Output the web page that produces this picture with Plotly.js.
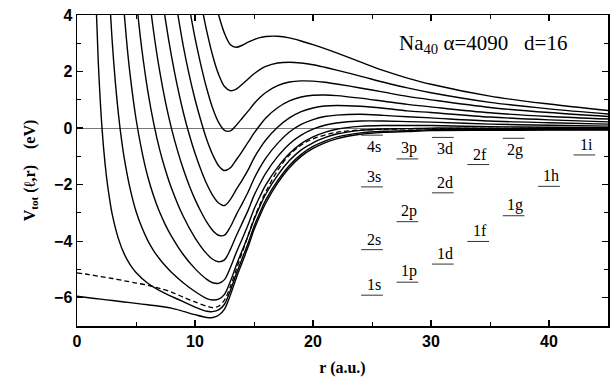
<!DOCTYPE html>
<html>
<head>
<meta charset="utf-8">
<script src="https://cdn.plot.ly/plotly-3.0.1.min.js"></script>
<style>html,body{margin:0;padding:0;background:#fff;}#chart{width:615px;height:377px;}</style>
</head>
<body>
<div id="chart"></div>
<script>
// ---- effective potentials V_tot(l, r) ----
const rL0 = [0,1,2,3,4,5,6,7,8,9,10,11,11.5,12,12.5,13,13.5,14,14.5,15,15.5,16,17,18,19,20,21,22,24,26,28,30,35,40,45];
const vL0 = [-5.95,-6.0,-6.05,-6.1,-6.15,-6.2,-6.25,-6.3,-6.37,-6.48,-6.6,-6.7,-6.7,-6.62,-6.4,-5.9,-5.3,-4.75,-4.2,-3.6,-3.1,-2.65,-1.95,-1.4,-1.0,-0.72,-0.52,-0.38,-0.22,-0.15,-0.12,-0.09,-0.08,-0.07,-0.07];

const rL1 = [1.6,1.8,2,2.25,2.5,2.75,3,3.5,4,4.5,5,6,7,8,9,10,11,11.5,12,12.5,13,13.5,14,14.5,15,15.5,16,17,18,19,20,21,22,24,26,28,30,35,40,45];
const vL1 = [4.61,2.37,0.75,-0.69,-1.72,-2.48,-3.08,-3.9,-4.45,-4.83,-5.11,-5.49,-5.75,-5.95,-6.14,-6.33,-6.48,-6.49,-6.43,-6.23,-5.74,-5.15,-4.61,-4.07,-3.48,-2.99,-2.54,-1.86,-1.32,-0.93,-0.65,-0.46,-0.32,-0.17,-0.11,-0.09,-0.06,-0.05,-0.05,-0.05];

const rL2 = [2.75,3,3.25,3.5,3.75,4,4.5,5,5.5,6,6.5,7,7.5,8,9,10,11,11.5,12,12.5,13,13.5,14,14.5,15,15.5,16,17,18,19,20,21,22,24,26,28,30,35,40,45];
const vL2 = [4.71,2.97,1.62,0.54,-0.34,-1.05,-2.14,-2.94,-3.52,-3.98,-4.34,-4.63,-4.88,-5.1,-5.47,-5.78,-6.03,-6.08,-6.05,-5.88,-5.42,-4.85,-4.33,-3.81,-3.24,-2.76,-2.33,-1.67,-1.15,-0.77,-0.52,-0.34,-0.21,-0.08,-0.03,-0.02,0.0,-0.01,-0.02,-0.03];

const rL3 = [3.9,4.25,4.5,5,5.5,6,6.5,7,7.5,8,9,10,11,11.5,12,12.5,13,13.5,14,14.5,15,15.5,16,17,18,19,20,21,22,24,26,28,30,35,40,45];
const vL3 = [4.58,2.88,1.89,0.33,-0.82,-1.72,-2.41,-2.97,-3.43,-3.82,-4.47,-4.97,-5.35,-5.47,-5.49,-5.36,-4.93,-4.4,-3.92,-3.42,-2.87,-2.42,-2.01,-1.39,-0.9,-0.55,-0.31,-0.15,-0.04,0.06,0.09,0.09,0.09,0.05,0.03,0.01];

const rL4 = [5,5.25,5.5,6,6.5,7,7.5,8,9,10,11,11.5,12,12.5,13,13.5,14,14.5,15,15.5,16,17,18,19,20,21,22,24,26,28,30,35,40,45];
const vL4 = [4.68,3.66,2.77,1.31,0.17,-0.75,-1.49,-2.12,-3.12,-3.88,-4.45,-4.64,-4.73,-4.66,-4.29,-3.81,-3.36,-2.91,-2.39,-1.97,-1.59,-1.01,-0.56,-0.25,-0.04,0.1,0.18,0.25,0.25,0.23,0.21,0.14,0.1,0.07];

const rL5 = [6.1,6.5,7,7.5,8,8.5,9,9.5,10,10.5,11,11.5,12,12.5,13,13.5,14,14.5,15,15.5,16,17,18,19,20,21,22,24,26,28,30,35,40,45];
const vL5 = [4.71,3.39,2.03,0.92,0.0,-0.77,-1.44,-2.02,-2.52,-2.95,-3.33,-3.62,-3.79,-3.79,-3.49,-3.06,-2.67,-2.26,-1.79,-1.4,-1.06,-0.54,-0.14,0.13,0.3,0.41,0.46,0.49,0.45,0.4,0.36,0.25,0.19,0.14];

const rL6 = [7.25,7.5,8,8.5,9,9.5,10,10.5,11,11.5,12,12.5,13,13.5,14,14.5,15,15.5,16,17,18,19,20,21,22,24,26,28,30,35,40,45];
const vL6 = [4.56,3.82,2.56,1.49,0.57,-0.21,-0.89,-1.47,-1.98,-2.38,-2.65,-2.74,-2.52,-2.17,-1.84,-1.48,-1.06,-0.72,-0.42,0.03,0.36,0.58,0.71,0.78,0.8,0.77,0.7,0.61,0.55,0.39,0.29,0.22];

const rL7 = [8.4,8.75,9,9.5,10,10.5,11,11.5,12,12.5,13,13.5,14,14.5,15,15.5,16,17,18,19,20,21,22,24,26,28,30,35,40,45];
const vL7 = [4.38,3.51,2.92,1.9,1.02,0.26,-0.41,-0.94,-1.33,-1.5,-1.4,-1.12,-0.82,-0.5,-0.18,0.1,0.36,0.72,0.96,1.1,1.16,1.17,1.15,1.06,0.95,0.84,0.75,0.54,0.41,0.32];

const rL8 = [9.4,9.75,10,10.5,11,11.5,12,12.5,13,13.5,14,14.5,15,15.5,16,17,18,19,20,21,22,24,26,28,30,35,40,45];
const vL8 = [4.55,3.74,3.19,2.23,1.39,0.7,0.2,-0.08,-0.1,0.1,0.35,0.6,0.86,1.08,1.26,1.5,1.63,1.67,1.66,1.62,1.56,1.42,1.27,1.12,1.0,0.73,0.55,0.41];

const rL9 = [10.5,10.75,11,11.5,12,12.5,13,13.5,14,14.5,15,15.5,16,17,18,19,20,21,22,24,26,28,30,35,40,45];
const vL9 = [4.45,3.92,3.42,2.56,1.9,1.47,1.32,1.38,1.55,1.74,1.92,2.07,2.18,2.3,2.33,2.3,2.24,2.15,2.05,1.84,1.62,1.42,1.25,0.91,0.68,0.5];

const rL10 = [11.7,12,12.5,13,13.5,14,14.5,15,15.5,16,17,18,19,20,21,22,24,26,28,30,35,40,45];
const vL10 = [4.45,4.0,3.35,2.95,2.86,2.93,3.04,3.13,3.2,3.24,3.25,3.19,3.08,2.95,2.81,2.66,2.34,2.03,1.77,1.55,1.13,0.85,0.62];

// dashed potential
const rDash = [0,1,2,3,4,5,6,7,8,9,10,11,11.5,12,12.5,13,13.5,14,14.5,15,15.5,16,17,18,19,20,22,24,26,30,35,45];
const vDash = [-5.12,-5.18,-5.25,-5.32,-5.4,-5.48,-5.56,-5.67,-5.8,-5.98,-6.15,-6.3,-6.35,-6.3,-6.08,-5.6,-5.0,-4.4,-3.8,-3.2,-2.7,-2.25,-1.5,-0.95,-0.6,-0.38,-0.15,-0.07,-0.04,-0.02,-0.01,0];

// ---- single-particle levels ----
const levelNames    = ['1s','2s','3s','4s','1p','2p','3p','1d','2d','3d','1f','2f','1g','2g','1h','1i'];
const levelL        = [0,0,0,0,1,1,1,2,2,2,3,3,4,4,5,6];
const levelEnergies = [-5.91,-4.30,-2.08,-0.25,-5.45,-3.31,-1.09,-4.81,-2.29,-0.33,-4.01,-1.29,-3.10,-0.36,-2.06,-0.95];
const labelsBelow   = ['4s','3d','2g'];

const curveR = [rL0,rL1,rL2,rL3,rL4,rL5,rL6,rL7,rL8,rL9,rL10];
const curveV = [vL0,vL1,vL2,vL3,vL4,vL5,vL6,vL7,vL8,vL9,vL10];

const traces = [];
curveR.forEach((r, i) => {
  traces.push({x: r, y: curveV[i], mode: 'lines', type: 'scatter',
    line: {color: '#000', width: 1.4, shape: 'spline', smoothing: 0.9}, hoverinfo: 'skip'});
});
traces.push({x: rDash, y: vDash, mode: 'lines', type: 'scatter',
  line: {color: '#000', width: 1.3, dash: '5px,3px', shape: 'spline', smoothing: 0.9}, hoverinfo: 'skip'});

// level segments
const segX = [], segY = [];
const halfW = 0.92;
levelNames.forEach((n, i) => {
  const c = 25 + 3 * levelL[i];
  segX.push(c - halfW, c + halfW, null);
  segY.push(levelEnergies[i], levelEnergies[i], null);
});
traces.push({x: segX, y: segY, mode: 'lines', type: 'scatter',
  line: {color: '#333', width: 1}, hoverinfo: 'skip'});

const serif = 'Liberation Serif, Times New Roman, serif';
const annotations = levelNames.map((n, i) => {
  const below = labelsBelow.includes(n);
  return {
    x: 25 + 3 * levelL[i] + 0.15, y: levelEnergies[i], xref: 'x', yref: 'y',
    text: n, showarrow: false, xanchor: 'center',
    yanchor: below ? 'top' : 'bottom', yshift: below ? -1 : 0,
    font: {family: serif, size: 16, color: '#000'}
  };
});
annotations.push({
  x: 27.1, y: 2.98, xref: 'x', yref: 'y', xanchor: 'left', yanchor: 'middle',
  text: 'Na<sub>40</sub> \u03b1=4090\u00a0\u00a0 d=16', showarrow: false,
  font: {family: serif, size: 21, color: '#000'}
});

const tickFont = {family: 'Liberation Sans, Arial, sans-serif', size: 16, weight: 'bold', color: '#000'};
const layout = {
  width: 615, height: 377,
  margin: {l: 77, r: 7, t: 15, b: 51},
  paper_bgcolor: '#fff', plot_bgcolor: '#fff',
  showlegend: false,
  xaxis: {
    range: [0, 45], tickvals: [0, 10, 20, 30, 40], ticks: 'inside', ticklen: 6, tickwidth: 1.2,
    tickcolor: '#000', minor: {dtick: 5, ticks: 'inside', ticklen: 4, tickcolor: '#000', tickwidth: 1},
    showline: true, linecolor: '#000', linewidth: 1.5, mirror: 'ticks',
    showgrid: false, zeroline: false, tickfont: tickFont,
    title: {text: 'r (a.u.)', font: {family: serif, size: 16, weight: 'bold', color: '#000'}}
  },
  yaxis: {
    range: [-7, 4], tickvals: [-6, -4, -2, 0, 2, 4], ticks: 'inside', ticklen: 6, tickwidth: 1.2,
    tickcolor: '#000', minor: {dtick: 1, ticks: 'inside', ticklen: 4, tickcolor: '#000', tickwidth: 1},
    showline: true, linecolor: '#000', linewidth: 1.5, mirror: 'ticks',
    showgrid: false, zeroline: true, zerolinecolor: '#555', zerolinewidth: 0.8,
    tickfont: tickFont,
    title: {text: 'V<sub>tot</sub> (\u2113,r)\u00a0\u00a0\u00a0 (eV)', font: {family: serif, size: 16, weight: 'bold', color: '#000'}}
  },
  annotations: annotations
};

Plotly.newPlot('chart', traces, layout, {displayModeBar: false, staticPlot: true});
</script>
</body>
</html>
